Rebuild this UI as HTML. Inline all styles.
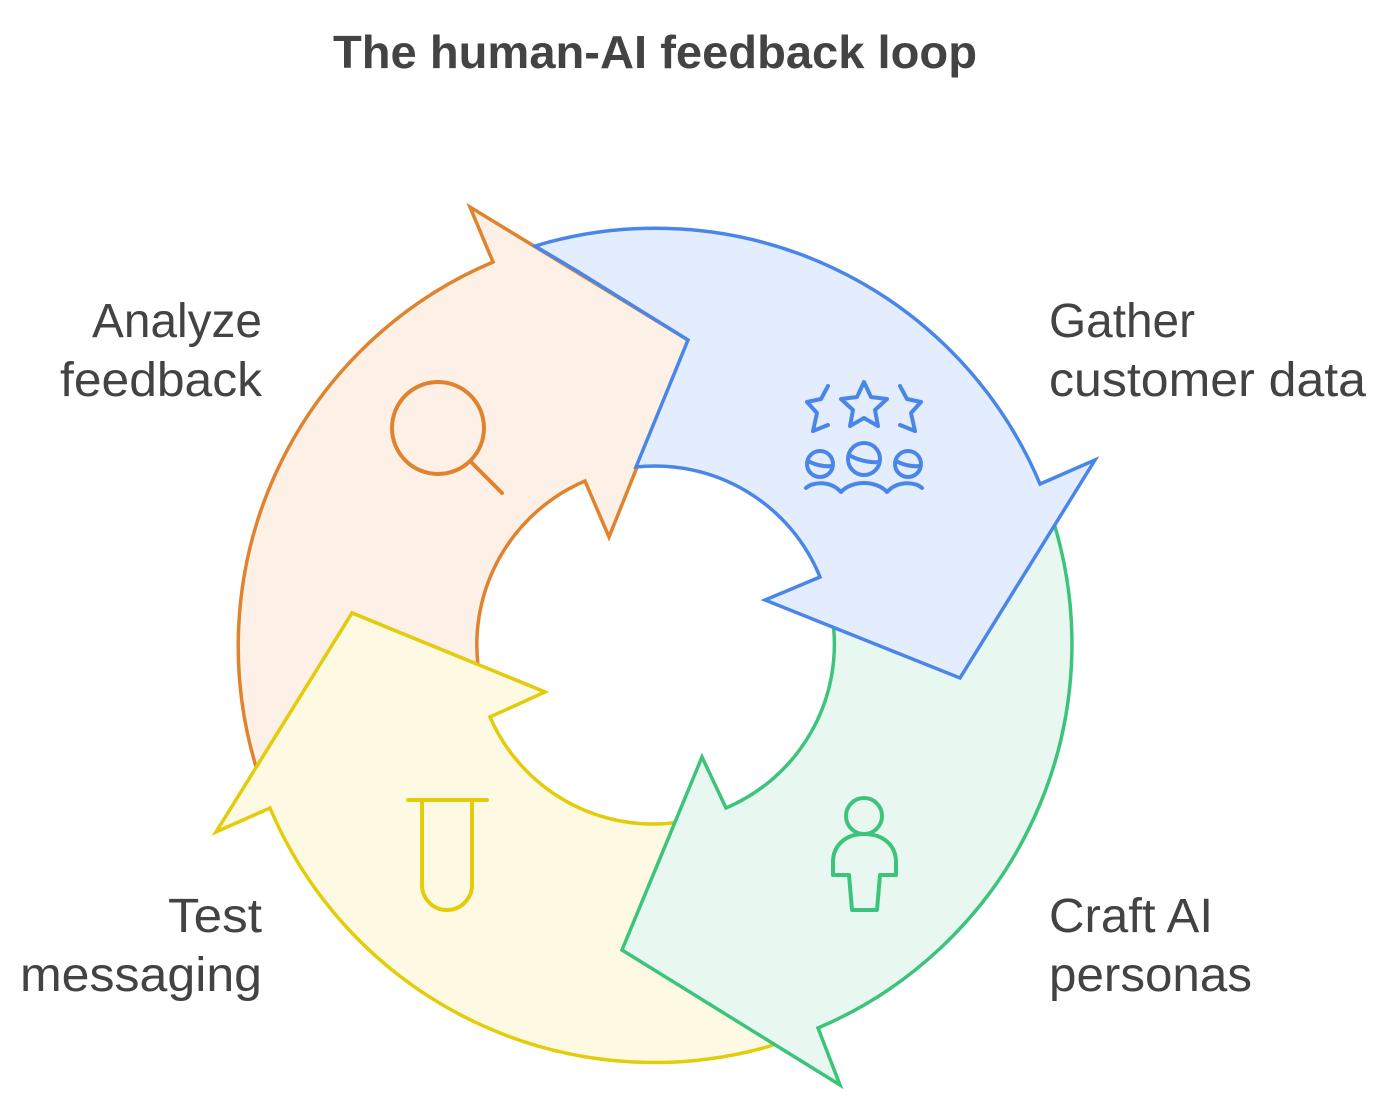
<!DOCTYPE html>
<html><head><meta charset="utf-8"><style>
html,body{margin:0;padding:0;background:#fff;}
svg{display:block;}
text{font-family:"Liberation Sans",Arial,sans-serif;fill:#434343;}
</style></head><body>
<svg width="1400" height="1116" viewBox="0 0 1400 1116" xmlns="http://www.w3.org/2000/svg">
<text x="333" y="68" font-size="46" font-weight="bold" fill="#3a3a3a" textLength="644" lengthAdjust="spacingAndGlyphs">The human-AI feedback loop</text>
<g stroke-width="3.5" stroke-linejoin="miter" stroke-linecap="round">
<path d="M258,773 A417,417 0 0 1 493,262 L470,207 L688,340 L609,537 L585,481 A178,178 0 0 0 478,665 L545,692 L352,613 Z" fill="#FDF0E6" stroke="#E0832F"/>
<path d="M490,717 L545,692 L352,613 L216,832 L270,808 A417,417 0 0 0 780,1043 L680,822 A178,178 0 0 1 490,717 Z" fill="#FDF9E3" stroke="#E3CC0A"/>
<path d="M726,808 L702,757 L622,950 L840,1085 L818,1028 A417,417 0 0 0 1053,520 L833,622 A178,178 0 0 1 726,808 Z" fill="#E8F8F0" stroke="#3CC47C"/>
<path d="M636,467 L688,340 L577,271 L535,246 A417,417 0 0 1 1040,484 L1095,460 L960,678 L765,600 L820,577 A178,178 0 0 0 636,467 Z" fill="#E3EDFD" stroke="#4A86E8"/>
</g>
<g fill="none" stroke-width="4" stroke-linecap="round" stroke-linejoin="round">
<circle cx="438" cy="428" r="46" stroke="#E0832F"/>
<line x1="471" y1="462" x2="502" y2="493" stroke="#E0832F"/>
<path d="M408,800 L487,800 M422,800 L422,885 A25,25 0 0 0 472,885 L472,800" stroke="#E3CC0A"/>
<circle cx="864" cy="816" r="18" stroke="#3CC47C"/>
<path d="M864,834 C845,834 833,846 833,862 L833,875 L849,875 L852,910 L877,910 L880,875 L896,875 L896,862 C896,846 884,834 864,834 Z" stroke="#3CC47C"/>
<g stroke="#4A86E8">
<path d="M864,382 L871,397 L887,399 L875,410 L878,426 L864,418 L850,426 L853,410 L841,399 L857,397 Z"/>
<path d="M828,386 L821,399 L807,402 L817,413 L813,431 L828,425"/>
<path d="M900,386 L907,399 L921,402 L911,413 L915,431 L900,425"/>
<circle cx="820" cy="464" r="13"/>
<circle cx="864" cy="459" r="16"/>
<circle cx="908" cy="464" r="13"/>
<path d="M808,461 C815,465 825,467 832,466 M849,455 C857,460 870,463 879,462 M896,461 C903,465 913,467 920,466"/>
<path d="M806,488 C812,482 830,480 841,492 C852,480 876,480 887,492 C898,480 916,482 922,488"/>
</g>
</g>
<g font-size="48">
<text x="92" y="337" textLength="170" lengthAdjust="spacingAndGlyphs">Analyze</text>
<text x="60" y="396" textLength="202" lengthAdjust="spacingAndGlyphs">feedback</text>
<text x="1049" y="337" textLength="146" lengthAdjust="spacingAndGlyphs">Gather</text>
<text x="1049" y="396" textLength="317" lengthAdjust="spacingAndGlyphs">customer data</text>
<text x="1049" y="932" textLength="164" lengthAdjust="spacingAndGlyphs">Craft AI</text>
<text x="1049" y="991" textLength="203" lengthAdjust="spacingAndGlyphs">personas</text>
<text x="168" y="932" textLength="94" lengthAdjust="spacingAndGlyphs">Test</text>
<text x="20" y="991" textLength="242" lengthAdjust="spacingAndGlyphs">messaging</text>
</g>
</svg>
</body></html>
